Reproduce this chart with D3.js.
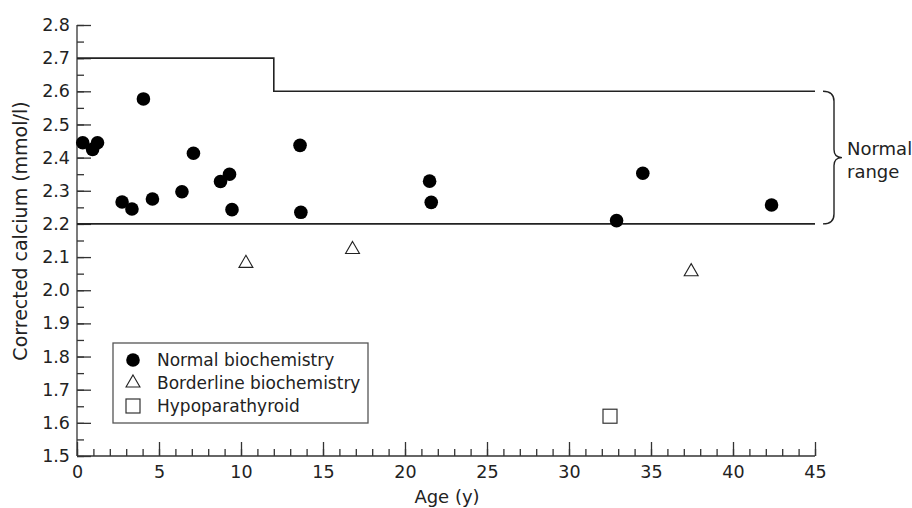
<!DOCTYPE html>
<html lang="en">
<head>
<meta charset="UTF-8">
<title>Corrected calcium by age</title>
<script src="https://cdn.jsdelivr.net/npm/d3@7"></script>
<style>
    body { margin: 0; background: #fff; }
    svg { display: block; }
    text { font-family: 'DejaVu Sans', sans-serif; fill: #222; }
    .axis path, .axis line { stroke: #333; stroke-width: 1.3px; }
    .range { fill: none; stroke: #222; stroke-width: 1.6px; }
</style>
</head>
<body>
<div id="chart"></div>
<script>
// values
const normalAge = [0.35, 0.95, 1.25, 4.05, 2.75, 3.35, 4.6, 6.4, 7.1, 8.75, 9.3, 9.45, 13.6, 13.65, 21.5, 21.6, 34.5, 32.9, 42.35];
const normalCa  = [2.445, 2.425, 2.445, 2.577, 2.266, 2.245, 2.275, 2.297, 2.413, 2.328, 2.35, 2.243, 2.437, 2.235, 2.329, 2.265, 2.353, 2.21, 2.257];
const borderAge = [10.3, 16.8, 37.45];
const borderCa  = [2.081, 2.123, 2.056];
const hypoAge = [32.5];
const hypoCa  = [1.62];

// normal range step line
const rangeUpperAge = [0, 12, 12, 45];
const rangeUpperCa  = [2.7, 2.7, 2.6, 2.6];
const rangeLowerAge = [0, 45];
const rangeLowerCa  = [2.2, 2.2];

const xTicks = [0, 5, 10, 15, 20, 25, 30, 35, 40, 45];
const yTicks = [1.5, 1.6, 1.7, 1.8, 1.9, 2.0, 2.1, 2.2, 2.3, 2.4, 2.5, 2.6, 2.7, 2.8];
const legendLabels = ["Normal biochemistry", "Borderline biochemistry", "Hypoparathyroid"];

const width = 912, height = 508;
const margin = {left: 77, right: 97, top: 25, bottom: 52};

const svg = d3.select("#chart").append("svg")
    .attr("width", width)
    .attr("height", height);

const x = d3.scaleLinear().domain([0, 45]).range([margin.left, width - margin.right]);
const y = d3.scaleLinear().domain([1.5, 2.8]).range([height - margin.bottom, margin.top]);

// minor ticks
svg.append("g")
    .attr("class", "axis")
    .attr("transform", `translate(0,${y(1.5)})`)
    .call(d3.axisTop(x).tickValues(d3.range(0, 46, 1)).tickSize(7).tickFormat(""))
    .call(g => g.select(".domain").remove());
svg.append("g")
    .attr("class", "axis")
    .attr("transform", `translate(${x(0)},0)`)
    .call(d3.axisRight(y).tickValues(d3.range(0, 27).map(i => 1.5 + i * 0.05)).tickSize(7).tickFormat(""))
    .call(g => g.select(".domain").remove());

// major ticks with labels
const xAxis = svg.append("g")
    .attr("class", "axis")
    .attr("transform", `translate(0,${y(1.5)})`)
    .call(d3.axisTop(x).tickValues(xTicks).tickSize(14).tickSizeOuter(0).tickFormat(d3.format("d")));
xAxis.selectAll("text")
    .attr("y", 22)
    .attr("dy", 0)
    .style("font-size", "17.5px");
xAxis.select(".domain").attr("d", `M${x(0)},0H${x(45)}`);

const yAxis = svg.append("g")
    .attr("class", "axis")
    .attr("transform", `translate(${x(0)},0)`)
    .call(d3.axisRight(y).tickValues(yTicks).tickSize(14).tickSizeOuter(0).tickFormat(d3.format(".1f")));
yAxis.selectAll("text")
    .attr("x", -7)
    .attr("text-anchor", "end")
    .style("font-size", "17.5px");
yAxis.select(".domain").attr("d", `M0,${y(1.5)}V${y(2.8)}`);

// axis titles
svg.append("text")
    .attr("x", 447)
    .attr("y", 503)
    .attr("text-anchor", "middle")
    .style("font-size", "18px")
    .text("Age (y)");
svg.append("text")
    .attr("transform", `translate(27,231) rotate(-90)`)
    .attr("text-anchor", "middle")
    .style("font-size", "19px")
    .text("Corrected calcium (mmol/l)");

// normal range lines
const line = d3.line().x(d => x(d[0])).y(d => y(d[1]));
svg.append("path").attr("class", "range")
    .attr("d", line(d3.zip(rangeUpperAge, rangeUpperCa)));
svg.append("path").attr("class", "range")
    .attr("d", line(d3.zip(rangeLowerAge, rangeLowerCa)));

// brace
const bx = x(45) + 8, yTop = y(2.6), yBot = y(2.2), yMid = (yTop + yBot) / 2;
svg.append("path")
    .attr("fill", "none")
    .attr("stroke", "#222")
    .attr("stroke-width", 1.4)
    .attr("d", `M${bx},${yTop} Q${bx + 11},${yTop} ${bx + 11},${yTop + 10}
        V${yMid - 8} Q${bx + 11},${yMid} ${bx + 19},${yMid}
        Q${bx + 11},${yMid} ${bx + 11},${yMid + 8}
        V${yBot - 10} Q${bx + 11},${yBot} ${bx},${yBot}`);
svg.append("text")
    .attr("x", bx + 24).attr("y", yMid - 3)
    .style("font-size", "18px")
    .text("Normal");
svg.append("text")
    .attr("x", bx + 24).attr("y", yMid + 20)
    .style("font-size", "18px")
    .text("range");

// data points
svg.append("g").selectAll("circle")
    .data(d3.zip(normalAge, normalCa))
    .join("circle")
    .attr("cx", d => x(d[0]))
    .attr("cy", d => y(d[1]))
    .attr("r", 6.8)
    .attr("fill", "#000");

const tri = d3.symbol().type(d3.symbolTriangle).size(84);
svg.append("g").selectAll("path")
    .data(d3.zip(borderAge, borderCa))
    .join("path")
    .attr("transform", d => `translate(${x(d[0])},${y(d[1])})`)
    .attr("d", tri)
    .attr("fill", "#fff")
    .attr("stroke", "#222")
    .attr("stroke-width", 1.1);

svg.append("g").selectAll("rect")
    .data(d3.zip(hypoAge, hypoCa))
    .join("rect")
    .attr("x", d => x(d[0]) - 7)
    .attr("y", d => y(d[1]) - 7)
    .attr("width", 14)
    .attr("height", 14)
    .attr("fill", "#fff")
    .attr("stroke", "#333")
    .attr("stroke-width", 1.2);

// legend
const lg = svg.append("g").attr("transform", "translate(113,343)");
lg.append("rect")
    .attr("width", 255).attr("height", 80)
    .attr("fill", "#fff")
    .attr("stroke", "#555")
    .attr("stroke-width", 1.3);
const rows = lg.selectAll("g.row")
    .data(legendLabels)
    .join("g")
    .attr("class", "row")
    .attr("transform", (d, i) => `translate(20,${17 + i * 23})`);
rows.each(function(d, i) {
    const g = d3.select(this);
    if (i === 0) g.append("circle").attr("r", 6.8).attr("fill", "#000");
    if (i === 1) g.append("path").attr("d", tri).attr("fill", "#fff").attr("stroke", "#222").attr("stroke-width", 1.1);
    if (i === 2) g.append("rect").attr("x", -7).attr("y", -7).attr("width", 14).attr("height", 14)
        .attr("fill", "#fff").attr("stroke", "#333").attr("stroke-width", 1.2);
});
rows.append("text")
    .attr("x", 24)
    .attr("y", 6)
    .style("font-size", "17px")
    .text(d => d);
</script>
</body>
</html>
